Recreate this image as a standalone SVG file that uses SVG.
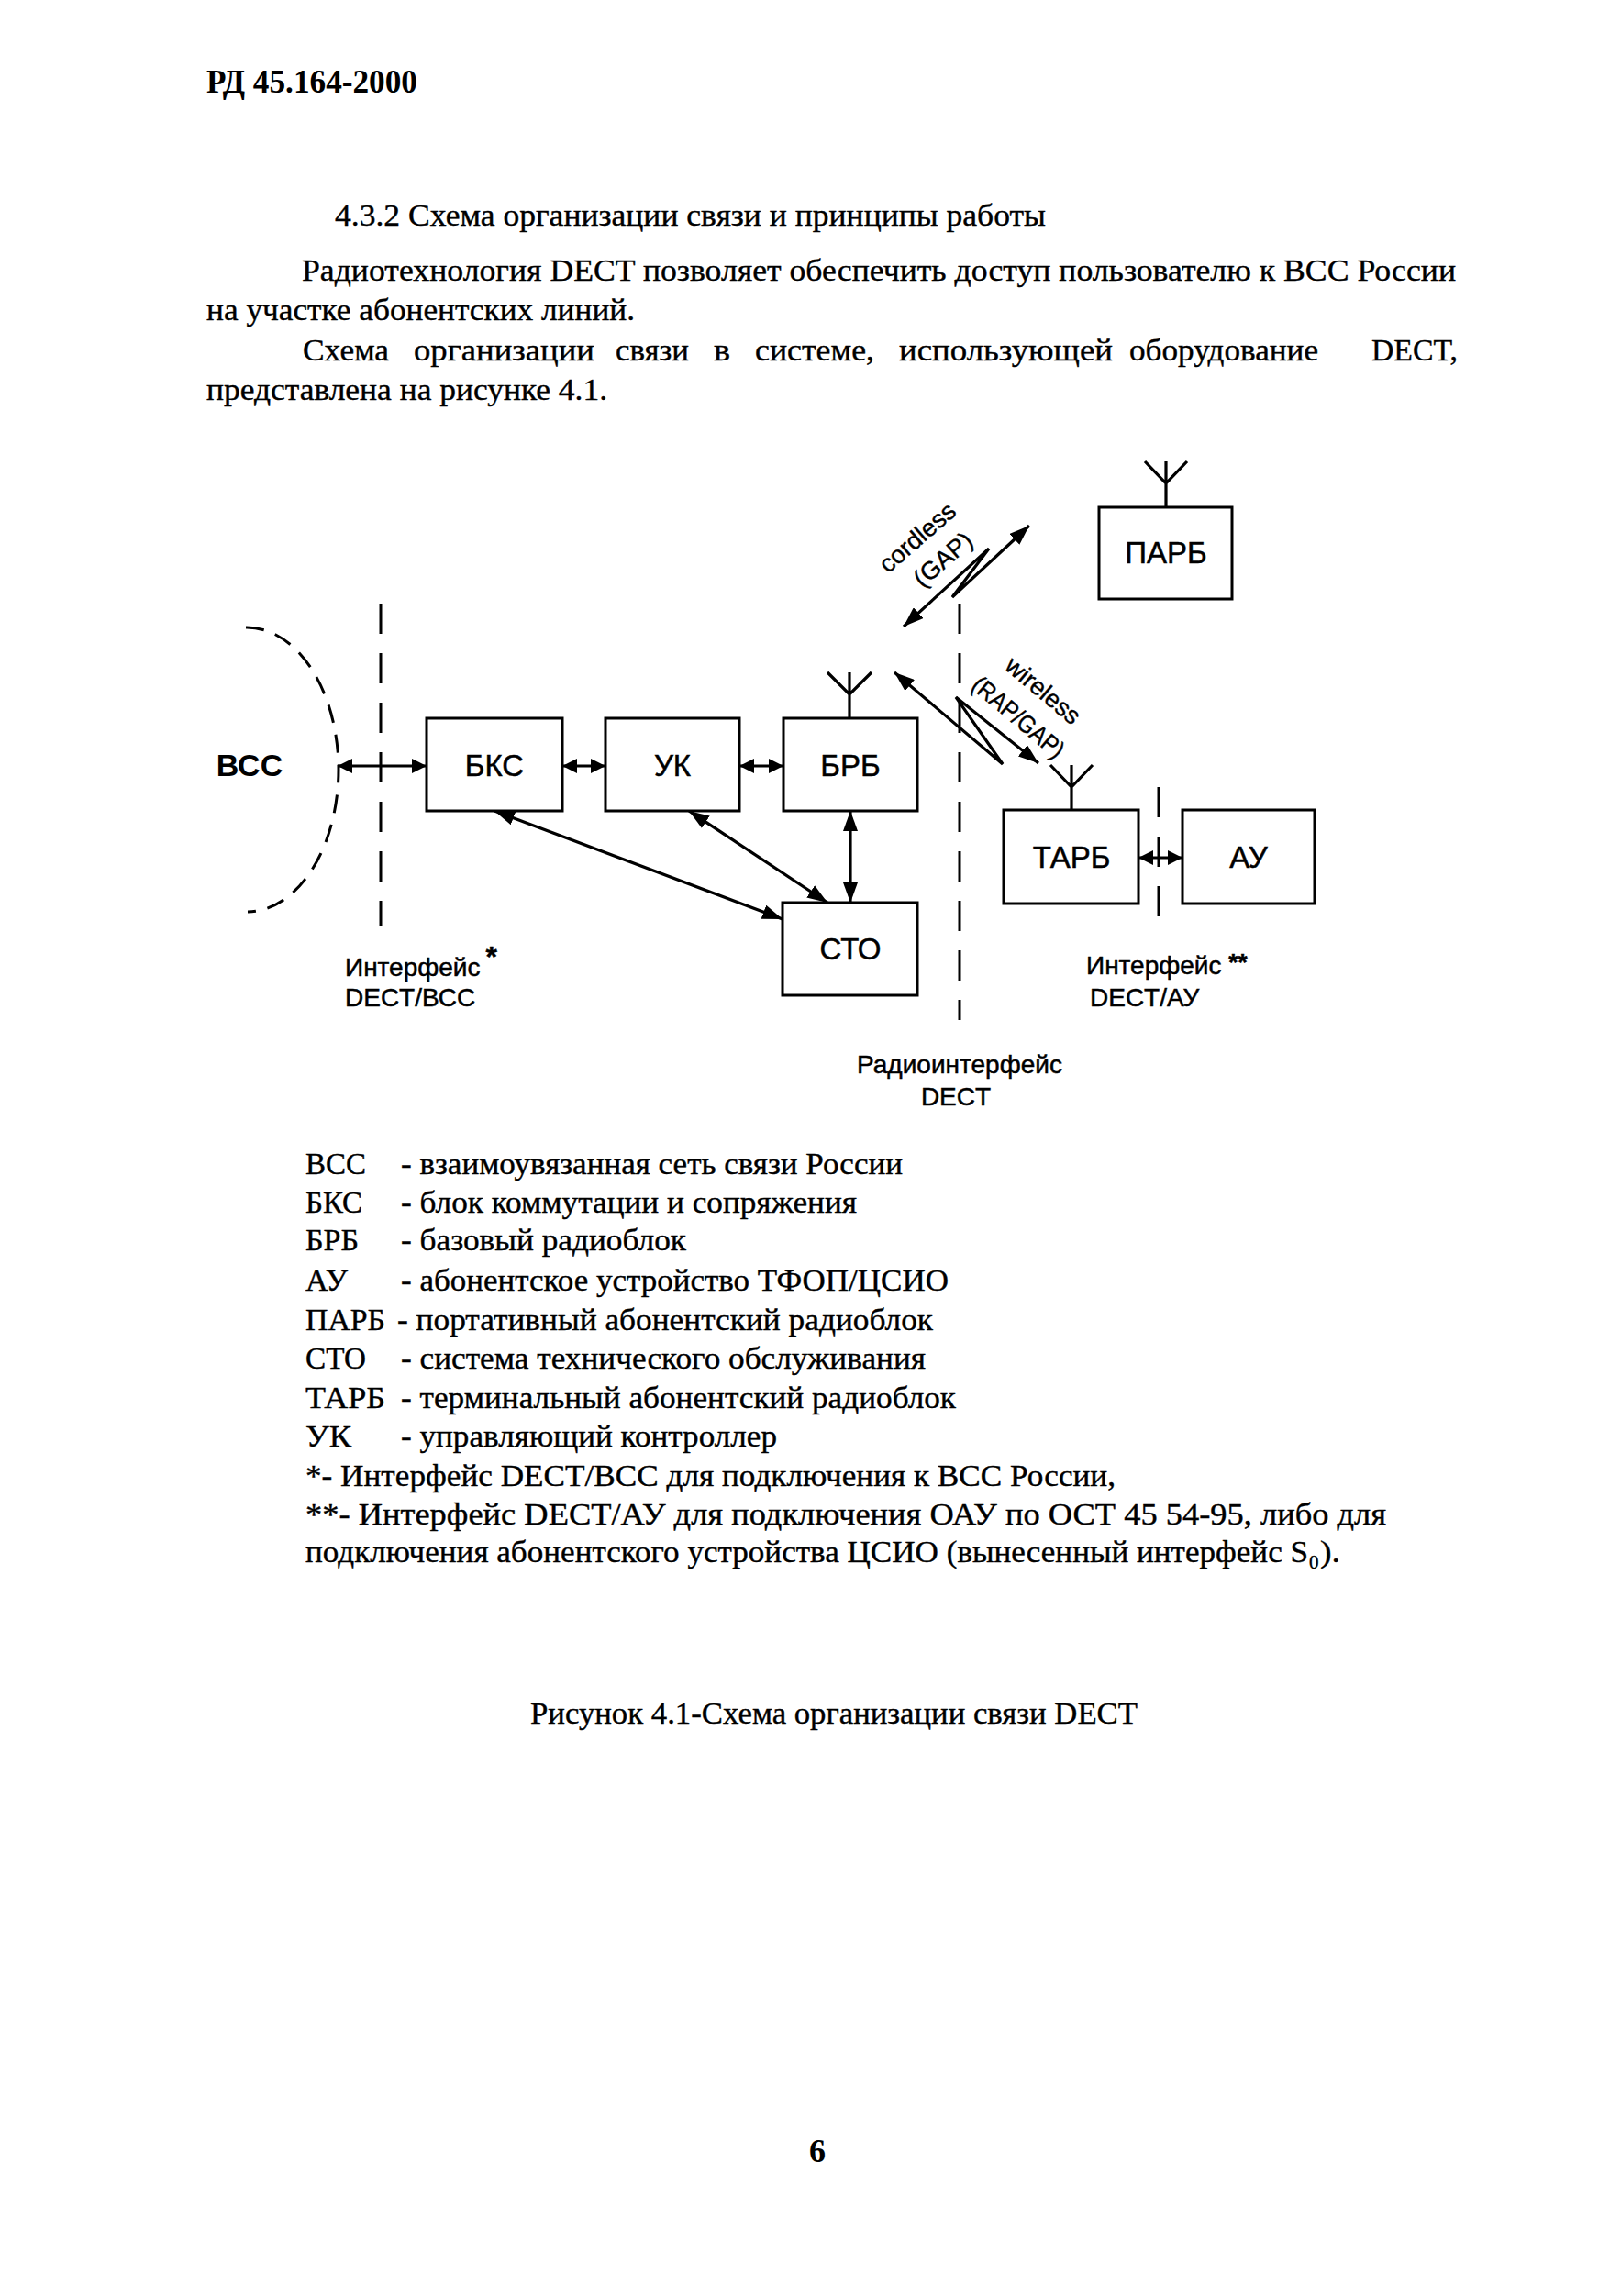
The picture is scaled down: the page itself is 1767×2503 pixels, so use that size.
<svg xmlns="http://www.w3.org/2000/svg" width="1767" height="2503" viewBox="0 0 1767 2503">
<defs>
<style>
.serif{font-family:"Liberation Serif","Times New Roman",serif;font-size:34px;fill:#000;stroke:#000;stroke-width:0.4}
.hdr{font-family:"Liberation Serif","Times New Roman",serif;font-size:36px;font-weight:bold;fill:#000}
.sans{font-family:"Liberation Sans",Arial,sans-serif;fill:#000}
.box{fill:#fff;stroke:#000;stroke-width:3}
.lbl{font-family:"Liberation Sans",Arial,sans-serif;font-size:33px;fill:#000;text-anchor:middle;stroke:#000;stroke-width:0.5}
.note{font-family:"Liberation Sans",Arial,sans-serif;font-size:28px;fill:#000;stroke:#000;stroke-width:0.5}
.radio{font-family:"Liberation Sans",Arial,sans-serif;font-size:27px;fill:#000;text-anchor:middle;stroke:#000;stroke-width:0.4}
.conn{fill:none;stroke:#000;stroke-width:3.2}
.dash{fill:none;stroke:#000;stroke-width:3;stroke-dasharray:33 21}
.ant{fill:none;stroke:#000;stroke-width:3.2}
</style>
<marker id="ah" viewBox="0 0 22 16" refX="22" refY="8" markerWidth="22" markerHeight="16" markerUnits="userSpaceOnUse" orient="auto-start-reverse">
<path d="M0,0 L22,8 L0,16 z" fill="#000"/>
</marker>
<marker id="ahs" viewBox="0 0 16 16" refX="16" refY="8" markerWidth="16" markerHeight="16" markerUnits="userSpaceOnUse" orient="auto-start-reverse">
<path d="M0,0 L16,8 L0,16 z" fill="#000"/>
</marker>
</defs>
<rect x="0" y="0" width="1767" height="2503" fill="#fff"/>

<g id="page-text">
<text class="hdr" x="225" y="101" textLength="230" lengthAdjust="spacingAndGlyphs">РД 45.164-2000</text>
<text class="serif" x="365" y="246" textLength="775" lengthAdjust="spacingAndGlyphs">4.3.2 Схема организации связи и принципы работы</text>
<text class="serif" x="329" y="306" textLength="1258" lengthAdjust="spacingAndGlyphs">Радиотехнология DECT позволяет обеспечить доступ пользователю к ВСС России</text>
<text class="serif" x="225" y="349" textLength="467" lengthAdjust="spacingAndGlyphs">на участке абонентских линий.</text>
<g class="serif">
<text x="330" y="393" textLength="94" lengthAdjust="spacingAndGlyphs">Схема</text>
<text x="451" y="393" textLength="197" lengthAdjust="spacingAndGlyphs">организации</text>
<text x="671" y="393" textLength="80" lengthAdjust="spacingAndGlyphs">связи</text>
<text x="778" y="393" textLength="18" lengthAdjust="spacingAndGlyphs">в</text>
<text x="823" y="393" textLength="130" lengthAdjust="spacingAndGlyphs">системе,</text>
<text x="980" y="393" textLength="233" lengthAdjust="spacingAndGlyphs">использующей</text>
<text x="1231" y="393" textLength="206" lengthAdjust="spacingAndGlyphs">оборудование</text>
<text x="1495" y="393" textLength="94" lengthAdjust="spacingAndGlyphs">DECT,</text>
</g>
<text class="serif" x="225" y="436" textLength="437" lengthAdjust="spacingAndGlyphs">представлена на рисунке 4.1.</text>
</g>

<g id="connectors">
<line class="conn" x1="368" y1="835" x2="465" y2="835" marker-start="url(#ahs)" marker-end="url(#ahs)"/>
<line class="conn" x1="613" y1="835" x2="660" y2="835" marker-start="url(#ahs)" marker-end="url(#ahs)"/>
<line class="conn" x1="806" y1="835" x2="854" y2="835" marker-start="url(#ahs)" marker-end="url(#ahs)"/>
<line class="conn" x1="539" y1="884" x2="853" y2="1002" marker-start="url(#ah)" marker-end="url(#ah)"/>
<line class="conn" x1="751" y1="884" x2="902" y2="984" marker-start="url(#ah)" marker-end="url(#ah)"/>
<line class="conn" x1="927" y1="884" x2="927" y2="984" marker-start="url(#ah)" marker-end="url(#ah)"/>
<line class="conn" x1="1241" y1="935" x2="1289" y2="935" marker-start="url(#ahs)" marker-end="url(#ahs)"/>
<polyline id="cordless-link" class="conn" points="985,683 1078,598 1038,651 1122,573" marker-start="url(#ah)" marker-end="url(#ah)"/>
<polyline id="wireless-link" class="conn" points="975,733 1093,833 1042,760 1132,832" marker-start="url(#ah)" marker-end="url(#ah)"/>
</g>

<g id="interfaces">
<line class="dash" x1="415" y1="658" x2="415" y2="1010"/>
<line class="dash" x1="1046" y1="658" x2="1046" y2="1112"/>
<line class="dash" x1="1263" y1="858" x2="1263" y2="1002"/>
<text class="note" x="376" y="1064">Интерфейс<tspan font-weight="bold" font-size="32" dx="6" dy="-10">*</tspan></text>
<text class="note" x="376" y="1097">DECT/ВСС</text>
<text class="note" x="1184" y="1062">Интерфейс <tspan font-weight="bold" font-size="26" dy="-4">**</tspan></text>
<text class="note" x="1188" y="1097">DECT/АУ</text>
<text class="note" x="1046" y="1170" text-anchor="middle">Радиоинтерфейс</text>
<text class="note" x="1042" y="1205" text-anchor="middle">DECT</text>
<text class="radio" transform="translate(1000,586) rotate(-41)" dy="9">cordless</text>
<text class="radio" transform="translate(1028,610) rotate(-41)" dy="9">(GAP)</text>
<text class="radio" transform="translate(1137,753) rotate(40)" dy="9">wireless</text>
<text class="radio" transform="translate(1110,782) rotate(40)" dy="9" textLength="122" lengthAdjust="spacingAndGlyphs">(RAP/GAP)</text>
</g>

<g id="n-vss">
<path d="M268,684 A100,155 0 0 1 270,994" fill="none" stroke="#000" stroke-width="3" stroke-dasharray="20 13"/>
<text class="sans" x="272" y="846" font-size="34" font-weight="bold" text-anchor="middle">ВСС</text>
</g>
<g id="n-bks">
<rect class="box" x="465" y="783" width="148" height="101"/>
<text class="lbl" x="539" y="846">БКС</text>
</g>
<g id="n-uk">
<rect class="box" x="660" y="783" width="146" height="101"/>
<text class="lbl" x="733" y="846">УК</text>
</g>
<g id="n-brb">
<rect class="box" x="854" y="783" width="146" height="101"/>
<path class="ant" d="M926,783 V733 M902,733 L926,757 L950,733"/>
<text class="lbl" x="927" y="846">БРБ</text>
</g>
<g id="n-sto">
<rect class="box" x="853" y="984" width="147" height="101"/>
<text class="lbl" x="927" y="1046">СТО</text>
</g>
<g id="n-parb">
<rect class="box" x="1198" y="553" width="145" height="100"/>
<path class="ant" d="M1271,553 V503 M1248,503 L1271,527 L1294,503"/>
<text class="lbl" x="1271" y="614">ПАРБ</text>
</g>
<g id="n-tarb">
<rect class="box" x="1094" y="883" width="147" height="102"/>
<path class="ant" d="M1168,883 V834 M1145,834 L1168,858 L1191,834"/>
<text class="lbl" x="1168" y="946">ТАРБ</text>
</g>
<g id="n-au">
<rect class="box" x="1289" y="883" width="144" height="102"/>
<text class="lbl" x="1361" y="946">АУ</text>
</g>

<g id="legend" class="serif">
<text x="333" y="1280" textLength="66" lengthAdjust="spacingAndGlyphs">ВСС</text>
<text x="437" y="1280" textLength="547" lengthAdjust="spacingAndGlyphs">- взаимоувязанная сеть связи России</text>
<text x="333" y="1322" textLength="62" lengthAdjust="spacingAndGlyphs">БКС</text>
<text x="437" y="1322" textLength="497" lengthAdjust="spacingAndGlyphs">- блок коммутации и сопряжения</text>
<text x="333" y="1363" textLength="58" lengthAdjust="spacingAndGlyphs">БРБ</text>
<text x="437" y="1363" textLength="311" lengthAdjust="spacingAndGlyphs">- базовый радиоблок</text>
<text x="333" y="1407" textLength="46" lengthAdjust="spacingAndGlyphs">АУ</text>
<text x="437" y="1407" textLength="597" lengthAdjust="spacingAndGlyphs">- абонентское устройство ТФОП/ЦСИО</text>
<text x="333" y="1450" textLength="87" lengthAdjust="spacingAndGlyphs">ПАРБ</text>
<text x="433" y="1450" textLength="584" lengthAdjust="spacingAndGlyphs">- портативный абонентский радиоблок</text>
<text x="333" y="1492" textLength="66" lengthAdjust="spacingAndGlyphs">СТО</text>
<text x="437" y="1492" textLength="572" lengthAdjust="spacingAndGlyphs">- система технического обслуживания</text>
<text x="333" y="1535" textLength="87" lengthAdjust="spacingAndGlyphs">ТАРБ</text>
<text x="437" y="1535" textLength="605" lengthAdjust="spacingAndGlyphs">- терминальный абонентский радиоблок</text>
<text x="333" y="1577" textLength="50" lengthAdjust="spacingAndGlyphs">УК</text>
<text x="437" y="1577" textLength="410" lengthAdjust="spacingAndGlyphs">- управляющий контроллер</text>
<text x="333" y="1620" textLength="883" lengthAdjust="spacingAndGlyphs">*- Интерфейс DECT/ВСС для подключения к ВСС России,</text>
<text x="333" y="1662" textLength="1178" lengthAdjust="spacingAndGlyphs">**- Интерфейс DECT/АУ для подключения ОАУ по ОСТ 45 54-95, либо для</text>
<text x="333" y="1703" textLength="1093" lengthAdjust="spacingAndGlyphs">подключения абонентского устройства ЦСИО (вынесенный интерфейс S</text>
<text x="1427" y="1710" font-size="21">0</text>
<text x="1439" y="1703" textLength="22" lengthAdjust="spacingAndGlyphs">).</text>
</g>

<g id="caption">
<text class="serif" x="578" y="1879" textLength="662" lengthAdjust="spacingAndGlyphs">Рисунок 4.1-Схема организации связи DECT</text>
<text class="hdr" x="891" y="2357" text-anchor="middle" font-size="40">6</text>
</g>
</svg>
